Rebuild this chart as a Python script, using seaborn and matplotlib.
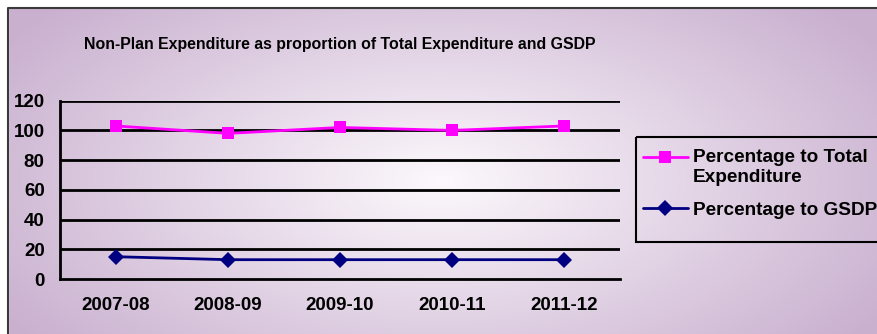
import numpy as np
import pandas as pd
import matplotlib
matplotlib.use("Agg")
import matplotlib.pyplot as plt
import seaborn as sns
from matplotlib.patches import Rectangle
from matplotlib.lines import Line2D
from matplotlib.legend_handler import HandlerLine2D

years = ["2007-08", "2008-09", "2009-10", "2010-11", "2011-12"]
pct_total_exp = [103, 98, 102, 100, 103]
pct_gsdp = [15, 13, 13, 13, 13]
series_names = ["Percentage to Total\nExpenditure", "Percentage to GSDP"]
yticks = [0, 20, 40, 60, 80, 100, 120]
title = "Non-Plan Expenditure as proportion of Total Expenditure and GSDP"

sns.set_theme(style="white")
plt.rcParams['font.family'] = ['Liberation Sans', 'DejaVu Sans']
for k in ["text.color", "xtick.color", "ytick.color", "axes.labelcolor"]:
    plt.rcParams[k] = "black"

W, H = 877, 334
fig = plt.figure(figsize=(W / 100, H / 100), dpi=100)
fig.patch.set_facecolor("white")

# background gradient axes
bg = fig.add_axes([0, 0, 1, 1], zorder=-10)
yy, xx = np.mgrid[0:H, 0:W]
r = np.sqrt(((xx - 440) / 520.0) ** 2 + ((yy - 180) / 260.0) ** 2)
r = np.clip(r, 0, 1)
c_in = np.array([252, 248, 252]) / 255.0
c_out = np.array([201, 176, 207]) / 255.0
img = c_in[None, None, :] * (1 - r[..., None]) + c_out[None, None, :] * r[..., None]
bg.imshow(img, extent=[0, W, H, 0], aspect="auto")
bg.set_xlim(0, W)
bg.set_ylim(H, 0)
bg.axis("off")
bg.add_patch(Rectangle((0, 0), W, 7, color="white", zorder=2))
bg.add_patch(Rectangle((0, 0), 8, H, color="white", zorder=2))
bg.plot([8, 8, W], [H, 7.5, 7.5], color="#3a3a3a", lw=1.5, zorder=3)
# legend frame (extends past the right edge, as in the reference)
bg.add_patch(Rectangle((636, 137), W, 105, fill=False, edgecolor="black", lw=1.5, zorder=3))

# main axes: x 60..620 px, y 100.7..279 px
ax = fig.add_axes([60 / W, 1 - 279 / H, (620 - 60) / W, (279 - 100.7) / H])
ax.patch.set_alpha(0)

df = pd.DataFrame({
    "year": years * 2,
    "value": pct_total_exp + pct_gsdp,
    "series": [series_names[0]] * len(years) + [series_names[1]] * len(years),
})
df["x"] = [years.index(y) for y in df["year"]]

palette = {series_names[0]: "#FF00FF", series_names[1]: "#000080"}
markers = {series_names[0]: "s", series_names[1]: "D"}
sns.lineplot(data=df, x="x", y="value", hue="series", style="series",
             palette=palette, markers=markers, dashes=False, lw=2,
             markersize=8.8, markeredgewidth=0, ax=ax, legend=False, zorder=5)
for ln in ax.lines:
    if ln.get_marker() == "D":
        ln.set_markersize(8)

ax.set_xlim(-0.5, len(years) - 0.5)
ax.set_ylim(0, 120)
ax.set_yticks(yticks)
ax.set_yticklabels([str(t) for t in yticks], fontsize=13.5, fontweight="bold")
ax.set_xticks(range(len(years)))
ax.set_xticklabels(years, fontsize=13.5, fontweight="bold")
ax.set_xticks(np.arange(-0.5, len(years)), minor=True)
ax.tick_params(axis="x", which="major", length=0, pad=13)
ax.tick_params(axis="x", which="minor", length=6, width=2, color="black", direction="out")
ax.tick_params(axis="y", length=5, width=2, color="black", direction="out", pad=6)
ax.set_xlabel("")
ax.set_ylabel("")
for t in yticks[1:]:
    ax.axhline(t, color="black", lw=2, zorder=1)
for s in ["top", "right"]:
    ax.spines[s].set_visible(False)
for s in ["left", "bottom"]:
    ax.spines[s].set_color("black")
    ax.spines[s].set_linewidth(2)
ax.grid(False)

fig.text(340 / W, 1 - 45 / H, title, ha="center", va="center",
         fontsize=11.4, fontweight="bold", color="black")


class ShiftedLine(HandlerLine2D):
    def __init__(self, dy=0.0, **kw):
        super().__init__(**kw)
        self.dy = dy

    def create_artists(self, legend, orig_handle, xdescent, ydescent, width,
                       height, fontsize, trans):
        arts = super().create_artists(legend, orig_handle, xdescent, ydescent,
                                      width, height, fontsize, trans)
        for a in arts:
            a.set_ydata(np.asarray(a.get_ydata(), dtype=float) + self.dy)
        return arts


handles = [
    Line2D([], [], color="#FF00FF", lw=2, marker="s", markersize=8.8, markeredgewidth=0),
    Line2D([], [], color="#000080", lw=2, marker="D", markersize=8, markeredgewidth=0),
]
leg = fig.legend(handles, series_names, loc="upper left",
                 bbox_to_anchor=(643 / W, 1 - 149 / H), frameon=False,
                 prop={"weight": "bold", "size": 13.7}, handlelength=2.35,
                 handletextpad=0.27, borderpad=0, labelspacing=0.82,
                 borderaxespad=0,
                 handler_map={handles[0]: ShiftedLine(dy=7.5)})

fig.savefig("out.png", dpi=100)
